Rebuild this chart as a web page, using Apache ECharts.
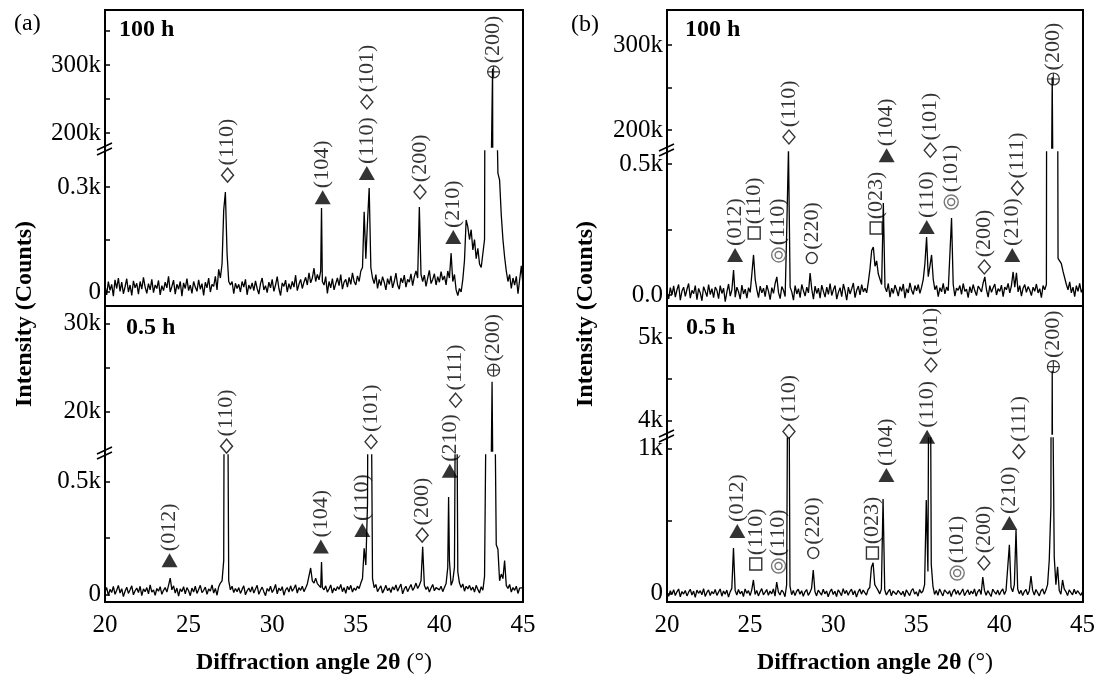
<!DOCTYPE html>
<html>
<head>
<meta charset="utf-8">
<title>XRD patterns, 0.5 h and 100 h</title>
<script src="https://cdn.jsdelivr.net/npm/echarts@6/dist/echarts.min.js"></script>
<style>
html, body { margin: 0; padding: 0; background: #fff; }
#main { width: 1098px; height: 682px; }
</style>
</head>
<body>
<div id="main"></div>
<script>
// sampling grid of the patterns: 20.0 ... 45.0 deg every 0.1 deg
const angleStart = 20;
const angleStep = 0.1;

// (a) 100 h, counts (one row = one degree)
const countsA100 = [
    18, -8, 30, 5, 22, -12, 35, 10, 40, 2,            // 20
    28, -5, 15, 38, 0, 20, -10, 32, 12, 25,           // 21
    -6, 30, 8, 42, 14, -4, 24, 6, 36, -2,             // 22
    20, 10, 33, -8, 18, 4, 28, 12, 45, 0,             // 23
    16, 34, -6, 22, 8, 30, -12, 26, 10, 38,           // 24
    4, 20, -4, 30, 14, 2, 35, 8, 24, -10,             // 25
    28, 12, 40, 0, 22, 16, 45, 6, 65, 40,             // 26
    80, 234, 286, 110, 30, 20, 30, -5, 25, 10,        // 27
    22, 0, 30, 14, 36, -8, 20, 8, 26, 4,              // 28
    32, 10, -6, 24, 40, 6, 18, -2, 28, 12,            // 29
    36, 2, 20, 44, 10, -10, 26, 16, 34, 0,            // 30
    24, 8, 30, 14, 48, 4, 22, 36, 10, 28,             // 31
    42, 20, 55, 26, 40, 68, 30, 50, 35, 60,           // 32
    30, 20, 44, -4, 30, 12, 38, 6, 24, 40,            // 33
    18, 50, 8, 28, 36, 14, 42, 22, 55, 30,            // 34
    20, 46, 30, 60, 70, 229, 95, 200, 297, 70,        // 35
    40, 24, 50, 10, 36, 18, 44, 28, 6, 38,            // 36
    22, 46, 12, 30, 54, 20, 8, 40, 26, 48,            // 37
    14, 36, 28, 52, 18, 44, 60, 40, 243, 50,          // 38
    30, 48, 16, 40, 62, 24, 36, 52, 20, 44,           // 39
    28, 58, 34, 46, 20, 60, 40, 111, 30, 50,          // 40
    6, -10, 10, 0, 36, 90, 206, 186, 150, 178,        // 41
    120, 150, 95, 125, 80, 70, 110, 150, 2000, 8000,  // 42
    40000, 150000, 60000, 3000, 600, 340, 320, 220, 150, 100, // 43
    60, 30, 50, 10, 40, 20, 45, -5, 35, 75,           // 44
    20                                                // 45
];
const extraA100 = [[32.95, 240], [43.18, 295000]];

// (a) 0.5 h
const countsA05 = [
    12, 30, -5, 22, 8, 35, 0, 18, 40, 6,
    25, -10, 14, 32, 4, 20, 38, -2, 16, 28,
    8, 36, -6, 24, 12, 30, 2, 42, 10, 20,
    -4, 26, 14, 34, 0, 18, 30, 10, 40, 72,
    20, 38, 6, 28, -8, 24, 12, 34, 2, 30,
    16, -6, 28, 10, 36, 4, 22, 40, 8, 18,
    32, 0, 24, 14, 42, 6, 26, -4, 34, 50,
    60, 150, 3000, 1500, 60, 20, 36, 8, 26, 12,
    30, 4, 22, 38, -2, 16, 28, 10, 34, 6,
    24, 40, 0, 18, 32, 12, -6, 26, 14, 36,
    8, 22, 44, 2, 28, 16, 34, -4, 20, 30,
    10, 38, 14, 26, 42, 6, 30, 18, 36, 12,
    28, 46, 40, 117, 60, 50, 72, 48, 40, 30,
    30, 20, 38, 10, 24, 42, 6, 28, 16, 34,
    22, 44, 12, 30, 4, 36, 20, 40, 10, 28,
    18, 36, 26, 50, 70, 205, 130, 400, 2400, 1200,
    70, 30, 44, 12, 26, 38, 6, 22, 40, 16,
    28, 8, 34, 20, 42, 14, 30, 46, 2, 24,
    36, 12, 28, 44, 18, 30, 50, 26, 40, 60,
    211, 40, 22, 34, 10, 28, 44, 16, 30, 38,
    20, 36, 12, 30, 48, 120, 150, 40, 60, 120,
    1500, 100, 50, 30, 46, 14, 36, 24, 40, 18,
    32, 10, 40, 22, 6, 34, 18, 80, 900, 3000,
    8000, 14000, 12000, 1000, 220, 200, 60, 90, 70, 150,
    40, 26, 44, 10, 30, 18, 36, 4, 28, 20,
    30
];
const extraA05 = [[32.95, 144], [40.55, 432], [43.15, 23400]];

// (b) 100 h
const countsB100 = [
    10, -15, 28, 0, 35, -8, 20, 40, -20, 15,
    30, -5, 22, 44, -12, 18, 5, 36, -18, 25,
    8, -22, 32, 14, -6, 40, 2, 24, -10, 30,
    18, -14, 36, 6, 26, -25, 12, 42, -4, 20,
    95, -8, 30, 12, -16, 38, 4, 22, -12, 28,
    10, 80, 153, 60, 20, -10, 34, 8, 26, -6,
    38, 14, -18, 28, 6, 44, 69, 10, -14, 32,
    18, -6, 260, 560, 30, 12, -20, 36, 4, 24,
    -10, 40, 16, -4, 30, 8, 84, 22, -16, 34,
    6, 26, -12, 38, 14, -8, 30, 2, 44, -2,
    20, 36, -16, 10, 28, -6, 42, 16, -20, 30,
    4, 24, 46, -10, 18, 34, 0, 40, 12, 26,
    8, 50, 100, 170, 183, 110, 130, 80, 60, 40,
    351, 30, 12, 44, -8, 26, 6, 38, 20, -4,
    32, 14, 42, -12, 24, 8, 46, 18, 2, 36,
    16, 40, 6, 30, 60, 120, 221, 70, 110, 153,
    60, 20, 36, -6, 28, 12, 44, 4, 30, 16,
    10, 294, 40, -4, 26, 18, 36, 2, 44, 14,
    22, -10, 32, 8, 40, 16, -2, 34, 24, 12,
    46, 69, 20, -8, 36, 10, 28, 42, 0, 24,
    14, 38, -6, 30, 20, 44, 8, 36, 88, 30,
    85, 12, 36, -4, 26, 40, 10, 32, 18, -2,
    30, 14, 42, 8, 24, -10, 36, 20, 40, 5000,
    30000, 120000, 120000, 30000, 3000, 140, 133, 120, 90, 84,
    40, 20, 50, 8, 30, -6, 36, 14, 44, 10,
    26
];
const extraB100 = [[43.15, 262000]];

// (b) 0.5 h
const countsB05 = [
    5, -20, 18, -8, 25, -15, 10, 30, -25, 12,
    -5, 20, -18, 8, 28, -12, 15, -28, 22, 0,
    18, -10, 32, -22, 6, 24, -16, 12, -4, 26,
    -14, 8, 30, -20, 16, -6, 22, -26, 10, 34,
    312, 20, -12, 26, -4, 14, -22, 30, 0, 18,
    -16, 24, 92, -8, 20, -18, 10, 32, -10, 6,
    26, -14, 16, -4, 30, -20, 78, 10, -12, 22,
    8, -24, 60, 2500, 50, -10, 20, -16, 14, 28,
    -6, 18, -20, 10, 26, -14, 6, 34, 161, 12,
    -18, 22, 4, -12, 28, -4, 16, -24, 10, 30,
    -8, 14, -22, 24, 6, -16, 32, -2, 20, -14,
    12, 28, -10, 18, -26, 8, 30, -6, 22, 4,
    -12, 26, 40, 180, 210, 60, 40, 20, -4, 30,
    650, 24, -12, 10, 28, -18, 16, 6, -8, 20,
    30, -10, 14, -22, 24, 4, -16, 18, 32, -6,
    10, -20, 26, 2, 16, 60, 644, 150, 3000, 200,
    50, -8, 20, -14, 30, 6, -18, 24, 10, -4,
    18, -22, 12, 28, -6, 20, -12, 8, 30, -16,
    6, 24, -10, 16, -4, 30, -20, 12, 26, -8,
    112, 20, -14, 18, 6, -22, 28, 10, -6, 22,
    -12, 14, 30, -8, 20, 24, 334, 40, 10, 60,
    437, 30, -4, 20, -16, 12, 26, -10, 18, 119,
    20, -12, 26, 4, -18, 16, 30, -6, 22, 60,
    230, 600, 1500, 250, 60, 183, 20, -6, 92, 30,
    12, -16, 24, 6, -10, 28, -4, 18, 8, -14,
    10
];
const extraB05 = [[43.15, 4600]];

// peak marks: [angle, counts, mark, hkl]
const notesA100Hi = [[35.66, 245600, 'diamond', '(101)'], [43.24, 290000, 'oplus', '(200)']];
const notesA100Lo = [
    [27.33, 334, 'diamond', '(110)'], [33.02, 271, 'triangle', '(104)'],
    [35.66, 340, 'triangle', '(110)'], [38.84, 286, 'diamond', '(200)'],
    [40.83, 157, 'triangle', '(210)']
];
const notesA05Hi = [
    [27.27, 16100, 'diamond', '(110)'], [35.91, 16600, 'diamond', '(101)'],
    [40.97, 21300, 'diamond', '(111)'], [43.24, 24700, 'oplus', '(200)']
];
const notesA05Lo = [
    [23.86, 152, 'triangle', '(012)'], [32.91, 212, 'triangle', '(104)'],
    [35.39, 286, 'triangle', '(110)'], [38.97, 263, 'diamond', '(200)'],
    [40.62, 549, 'triangle', '(210)']
];
const notesB100Hi = [[27.33, 191800, 'diamond', '(110)'], [43.22, 260000, 'oplus', '(200)']];
const notesB100Lo = [
    [24.09, 153, 'triangle', '(012)'], [25.24, 237, 'square', '(110)'],
    [26.71, 153, 'dcircle', '(110)'], [28.70, 141, 'circle', '(220)'],
    [32.57, 256, 'square', '(023)'], [33.20, 534, 'triangle', '(104)'],
    [35.61, 260, 'triangle', '(110)'], [35.82, 553, 'diamond', '(101)'],
    [37.08, 355, 'dcircle', '(101)'], [39.07, 107, 'diamond', '(200)'],
    [40.75, 153, 'triangle', '(210)'], [41.06, 408, 'diamond', '(111)']
];
const notesB05Hi = [
    [27.33, 3870, 'diamond', '(110)'], [35.86, 4670, 'diamond', '(101)'],
    [43.22, 4650, 'oplus', '(200)']
];
const notesB05Lo = [
    [24.23, 430, 'triangle', '(012)'], [25.34, 202, 'square', '(110)'],
    [26.71, 188, 'dcircle', '(110)'], [28.80, 278, 'circle', '(220)'],
    [32.36, 278, 'square', '(023)'], [33.20, 816, 'triangle', '(104)'],
    [35.65, 1080, 'triangle', '(110)'], [37.46, 140, 'dcircle', '(101)'],
    [39.07, 209, 'diamond', '(200)'], [40.60, 485, 'triangle', '(210)'],
    [41.17, 977, 'diamond', '(111)']
];

// y ticks and their labels for each axis segment
const aHi100Ticks = [200000, 250000, 300000, 350000];
const aHi100Labels = [[200000, '200k'], [300000, '300k']];
const aLo100Ticks = [0, 150, 300];
const aLo100Labels = [[0, '0'], [300, '0.3k']];
const aHi05Ticks = [20000, 25000, 30000];
const aHi05Labels = [[20000, '20k'], [30000, '30k']];
const aLo05Ticks = [0, 250, 500];
const aLo05Labels = [[0, '0'], [500, '0.5k']];
const bHi100Ticks = [200000, 250000, 300000];
const bHi100Labels = [[200000, '200k'], [300000, '300k']];
const bLo100Ticks = [0, 250, 500];
const bLo100Labels = [[0, '0.0'], [500, '0.5k']];
const bHi05Ticks = [4000, 4500, 5000];
const bHi05Labels = [[4000, '4k'], [5000, '5k']];
const bLo05Ticks = [0, 500, 1000];
const bLo05Labels = [[0, '0'], [1000, '1k']];

const xTicks = [20, 25, 30, 35, 40, 45];

const serif = '"Liberation Serif", "Times New Roman", serif';

function spectrum(counts, extra) {
    const pts = counts.map((c, i) => [+(angleStart + i * angleStep).toFixed(1), c]);
    return pts.concat(extra).sort((p, q) => p[0] - q[0]);
}
const specA100 = spectrum(countsA100, extraA100);
const specA05 = spectrum(countsA05, extraA05);
const specB100 = spectrum(countsB100, extraB100);
const specB05 = spectrum(countsB05, extraB05);

// plot boxes (px)
const boxA = { left: 105, right: 523 };
const boxB = { left: 667, right: 1083 };

// each panel is split in two grids (broken y axis)
const segs = [
    { box: boxA, top: 10, bottom: 147, min: 179400, max: 380900, ticks: aHi100Ticks, labels: aHi100Labels, spec: specA100, notes: notesA100Hi },
    { box: boxA, top: 151, bottom: 306, min: -40, max: 403, ticks: aLo100Ticks, labels: aLo100Labels, spec: specA100, notes: notesA100Lo },
    { box: boxA, top: 306, bottom: 451, min: 15550, max: 31960, ticks: aHi05Ticks, labels: aHi05Labels, spec: specA05, notes: notesA05Hi },
    { box: boxA, top: 455, bottom: 602, min: -34, max: 619, ticks: aLo05Ticks, labels: aLo05Labels, spec: specA05, notes: notesA05Lo, xLabels: true },
    { box: boxB, top: 10, bottom: 148, min: 178800, max: 341200, ticks: bHi100Ticks, labels: bHi100Labels, spec: specB100, notes: notesB100Hi },
    { box: boxB, top: 152, bottom: 306, min: -42, max: 546, ticks: bLo100Ticks, labels: bLo100Labels, spec: specB100, notes: notesB100Lo },
    { box: boxB, top: 306, bottom: 434, min: 3840, max: 5380, ticks: bHi05Ticks, labels: bHi05Labels, spec: specB05, notes: notesB05Hi },
    { box: boxB, top: 438, bottom: 602, min: -60, max: 1071, ticks: bLo05Ticks, labels: bLo05Labels, spec: specB05, notes: notesB05Lo, xLabels: true }
];

const ringPath = 'path://M0,-10A10,10,0,1,1,0,10A10,10,0,1,1,0,-10ZM0,-5A5,5,0,1,1,0,5A5,5,0,1,1,0,-5Z';
const oplusPath = 'path://M0,-10A10,10,0,1,1,0,10A10,10,0,1,1,0,-10ZM-10,0L10,0M0,-10L0,10';
const marks = {
    diamond: { symbol: 'diamond', symbolSize: [12, 14], itemStyle: { color: '#fff', borderColor: '#000', borderWidth: 1.4 } },
    triangle: { symbol: 'triangle', symbolSize: [16, 14], itemStyle: { color: '#000' } },
    square: { symbol: 'rect', symbolSize: 12, itemStyle: { color: '#fff', borderColor: '#000', borderWidth: 1.4 } },
    circle: { symbol: 'circle', symbolSize: 11, itemStyle: { color: '#fff', borderColor: '#000', borderWidth: 1.4 } },
    dcircle: { symbol: ringPath, symbolSize: 14, itemStyle: { color: 'rgba(0,0,0,0)', borderColor: '#555', borderWidth: 1.4 } },
    oplus: { symbol: oplusPath, symbolSize: 12, itemStyle: { color: 'rgba(0,0,0,0)', borderColor: '#000', borderWidth: 1.2 } }
};

const grid = [], xAxis = [], yAxis = [], series = [];
segs.forEach((s, i) => {
    grid.push({ left: s.box.left, right: 1098 - s.box.right, top: s.top, height: s.bottom - s.top });
    xAxis.push({
        type: 'value', gridIndex: i, min: 20, max: 45, show: !!s.xLabels,
        axisLine: { show: false }, axisTick: { show: false }, splitLine: { show: false },
        axisLabel: { customValues: xTicks, margin: 11, color: '#000', fontFamily: serif, fontSize: 25 }
    });
    const names = new Map(s.labels);
    yAxis.push({
        type: 'value', gridIndex: i, min: s.min, max: s.max,
        axisLine: { show: false }, splitLine: { show: false },
        axisTick: { show: true, inside: true, length: 5, customValues: s.ticks, lineStyle: { color: '#000', width: 1.5 } },
        axisLabel: {
            customValues: s.labels.map(l => l[0]), formatter: v => names.get(v) || '',
            margin: 4, color: '#000', fontFamily: serif, fontSize: 25
        }
    });
    series.push({
        type: 'line', xAxisIndex: i, yAxisIndex: i, data: s.spec, symbol: 'none',
        lineStyle: { color: '#000', width: 1.3 }, clip: true, silent: true
    });
    series.push({
        type: 'scatter', xAxisIndex: i, yAxisIndex: i, clip: false, z: 5, silent: true,
        data: s.notes.map(n => Object.assign({ value: [n[0], n[1]], name: n[3] }, marks[n[2]])),
        label: {
            show: true, formatter: '{b}', position: 'top', distance: 2, rotate: 90,
            align: 'left', verticalAlign: 'middle', color: '#000', fontFamily: serif, fontSize: 22
        }
    });
});

const graphic = [];
// panel frames
[boxA, boxB].forEach(b => {
    [10, 306].forEach(t => graphic.push({
        type: 'rect', z: 10, shape: { x: b.left, y: t, width: b.right - b.left, height: 296 },
        style: { fill: 'none', stroke: '#000', lineWidth: 2 }
    }));
});
// axis break marks
[[boxA.left, 149], [boxA.left, 453], [boxB.left, 150], [boxB.left, 436]].forEach(([x, y]) => {
    [-2.5, 2.5].forEach(d => graphic.push({
        type: 'line', z: 11, shape: { x1: x - 8, y1: y + d + 3.5, x2: x + 7, y2: y + d - 3.5 },
        style: { stroke: '#000', lineWidth: 1.5 }
    }));
});
function text(x, y, str, size, weight, rotation) {
    graphic.push({
        type: 'text', z: 12, x: x, y: y, rotation: rotation || 0,
        style: { text: str, fill: '#000', fontFamily: serif, fontSize: size, fontWeight: weight || 'normal', align: 'left', verticalAlign: 'middle' }
    });
}
text(14, 24, '(a)', 24);
text(571, 25, '(b)', 24);
text(119, 30, '100 h', 24, 'bold');
text(685, 30, '100 h', 24, 'bold');
text(126, 328, '0.5 h', 24, 'bold');
text(686, 328, '0.5 h', 24, 'bold');
[[25, 314], [586, 314]].forEach(([x, y]) => graphic.push({
    type: 'text', z: 12, x: x, y: y, rotation: Math.PI / 2,
    style: { text: 'Intensity (Counts)', fill: '#000', fontFamily: serif, fontSize: 24, fontWeight: 'bold', align: 'center', verticalAlign: 'middle' }
}));
[[314, 663], [875, 663]].forEach(([x, y]) => graphic.push({
    type: 'text', z: 12, x: x, y: y,
    style: {
        text: '{b|Diffraction angle 2θ}{n| (°)}', align: 'center', verticalAlign: 'middle',
        rich: {
            b: { fontFamily: serif, fontSize: 24, fontWeight: 'bold', fill: '#000' },
            n: { fontFamily: serif, fontSize: 24, fill: '#000' }
        }
    }
}));

const chart = echarts.init(document.getElementById('main'));
chart.setOption({ animation: false, grid, xAxis, yAxis, series, graphic });
</script>
</body>
</html>
